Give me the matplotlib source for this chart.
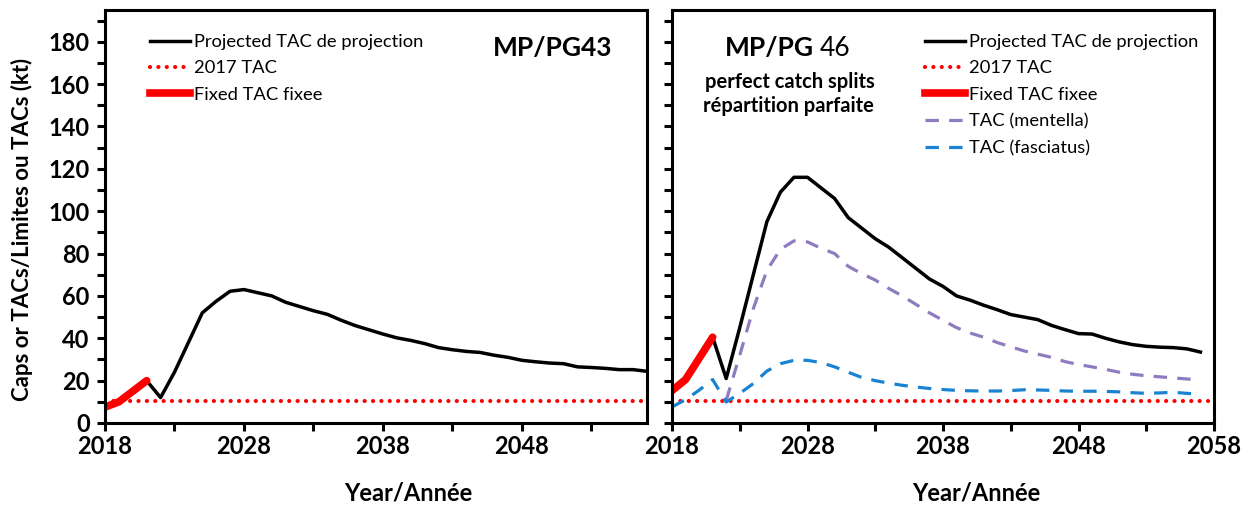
import matplotlib
matplotlib.use("Agg")
import matplotlib.pyplot as plt
from matplotlib.ticker import MultipleLocator
from matplotlib.lines import Line2D

plt.rcParams['font.family'] = ['Lato', 'DejaVu Sans']

# ---- data -------------------------------------------------------------
years_left = list(range(2018, 2058))
tac_pg43 = [7.5, 10, 15, 20, 12, 24, 38, 52, 57.5, 62.2,
            63, 61.5, 60, 57, 55, 53, 51.3, 48.5, 46, 44,
            42, 40.2, 39, 37.5, 35.6, 34.6, 33.8, 33.3, 32, 31,
            29.6, 28.9, 28.3, 28, 26.5, 26.2, 25.8, 25.2, 25.2, 24.4]
fixed_years = [2018, 2019, 2020, 2021]
fixed_pg43 = [7.5, 10, 15, 20]

years_right = list(range(2018, 2058))
tac_pg46 = [15.3, 20.5, 30.5, 40.5, 21, 45, 70, 95, 109, 116,
            116, 111, 106, 97, 92, 87, 83, 78, 73, 68,
            64.5, 60, 58, 55.6, 53.5, 51.2, 50, 48.8, 46.1, 44.1,
            42.2, 42, 40, 38.3, 37, 36.2, 35.8, 35.6, 35, 33.5]
fixed_pg46 = [15.3, 20.5, 30.5, 40.5]

years_mentella = list(range(2022, 2058))
tac_mentella = [10.7, 32, 54, 72, 82, 86, 85.5, 82.5, 80, 74,
                70.5, 67.5, 63.5, 60, 56, 52, 48.5, 45, 42.5, 40.5,
                38, 36, 34, 32.5, 31, 29, 27.6, 26.5, 25.3, 24,
                23, 22.3, 21.8, 21.3, 20.8, 20.2]
tac_fasciatus = [7.6, 11, 15.5, 20.5, 9.9, 14, 18.6, 24.5, 28, 29.6,
                 29.6, 28.5, 26.5, 24, 21.5, 20, 18.8, 17.8, 17, 16.3,
                 15.8, 15.4, 15.2, 15.1, 15.1, 15.3, 15.7, 15.6, 15.4, 15.1,
                 15, 15, 14.9, 14.7, 14.3, 14, 14.2, 14.5, 14, 13.6]
tac_2017 = 10.5

# ---- styles -----------------------------------------------------------
BLACK = '#000000'
RED = '#ff0000'
PURPLE = '#8f7bbf'
BLUE = '#1a82d2'
dotted = dict(color=RED, lw=3.0, linestyle=(0, (0.01, 2.0)),
              dash_capstyle='round')
dashed = (0, (4.2, 3.2))
W, H = 1250, 508

fig = plt.figure(figsize=(W / 100, H / 100), dpi=100)


def px_axes(x0, x1, ytop, ybot):
    return fig.add_axes([x0 / W, 1 - ybot / H, (x1 - x0) / W, (ybot - ytop) / H])


def style_axes(ax, xmax, show_ylabels):
    ax.set_xlim(2018, xmax)
    ax.set_ylim(0, 195)
    ax.xaxis.set_major_locator(MultipleLocator(10, offset=8))
    ax.xaxis.set_minor_locator(MultipleLocator(5, offset=3))
    ax.yaxis.set_major_locator(MultipleLocator(20))
    ax.yaxis.set_minor_locator(MultipleLocator(10))
    for s in ax.spines.values():
        s.set_linewidth(2.2)
    ax.tick_params(which='both', direction='out', length=6, width=2.2)
    ax.tick_params(axis='x', which='major', pad=3)
    ax.tick_params(axis='y', which='major', pad=5)
    for lab in ax.get_xticklabels() + ax.get_yticklabels():
        lab.set_fontweight('bold')
        lab.set_fontsize(17)
    if not show_ylabels:
        ax.set_yticklabels([])


legend_kw = dict(loc='upper left', frameon=False, fontsize=13.2, handlelength=2.2,
                 handletextpad=0.2, labelspacing=0.57, borderpad=0, borderaxespad=0)

# ---- left panel -------------------------------------------------------
axL = px_axes(105, 647, 10, 423)
axL.axhline(tac_2017, **dotted)
axL.plot(years_left, tac_pg43, color=BLACK, lw=2.5)
axL.plot(fixed_years, fixed_pg43, color=RED, lw=5.5, solid_capstyle='round')
style_axes(axL, 2057, True)

handles_L = [Line2D([], [], color=BLACK, lw=2.5),
             Line2D([], [], **dotted),
             Line2D([], [], color=RED, lw=5.5)]
axL.legend(handles_L, ['Projected TAC de projection', '2017 TAC', 'Fixed TAC fixee'],
           bbox_to_anchor=((150 - 105) / 542, (423 - 34) / 413), **legend_kw)
axL.text((553 - 105) / 542, (423 - 48) / 413, 'MP/PG43', transform=axL.transAxes,
         ha='center', va='center', fontsize=19, fontweight='bold')

# ---- right panel ------------------------------------------------------
axR = px_axes(672, 1214, 10, 423)
axR.axhline(tac_2017, **dotted)
axR.plot(years_right, tac_pg46, color=BLACK, lw=2.5)
axR.plot(fixed_years, fixed_pg46, color=RED, lw=5.5, solid_capstyle='round')
axR.plot(years_mentella, tac_mentella, color=PURPLE, lw=2.3, linestyle=dashed)
axR.plot(years_right, tac_fasciatus, color=BLUE, lw=2.3, linestyle=dashed)
style_axes(axR, 2058, False)

handles_R = [Line2D([], [], color=BLACK, lw=2.5),
             Line2D([], [], **dotted),
             Line2D([], [], color=RED, lw=5.5),
             Line2D([], [], color=PURPLE, lw=2.3, linestyle=dashed),
             Line2D([], [], color=BLUE, lw=2.3, linestyle=dashed)]
axR.legend(handles_R, ['Projected TAC de projection', '2017 TAC', 'Fixed TAC fixee',
                       'TAC (mentella)', 'TAC (fasciatus)'],
           bbox_to_anchor=((925 - 672) / 542, (423 - 34) / 413), **legend_kw)

axR.text((814 - 672) / 542, (423 - 48) / 413, 'MP/PG', transform=axR.transAxes,
         ha='right', va='center', fontsize=19, fontweight='bold')
axR.text((820 - 672) / 542, (423 - 48) / 413, '46', transform=axR.transAxes,
         ha='left', va='center', fontsize=19)
axR.text((790 - 672) / 542, (423 - 82) / 413, 'perfect catch splits',
         transform=axR.transAxes, ha='center', va='center', fontsize=14.5, fontweight='bold')
axR.text((788 - 672) / 542, (423 - 106) / 413, 'répartition parfaite',
         transform=axR.transAxes, ha='center', va='center', fontsize=14.5, fontweight='bold')

# ---- axis titles ------------------------------------------------------
fig.text(22 / W, 1 - 229 / H, 'Caps or TACs/Limites ou TACs (kt)', rotation=90,
         ha='center', va='center', fontsize=16, fontweight='bold')
fig.text(408 / W, 1 - 493 / H, 'Year/Année', ha='center', va='center',
         fontsize=17, fontweight='bold')
fig.text(976 / W, 1 - 493 / H, 'Year/Année', ha='center', va='center',
         fontsize=17, fontweight='bold')

fig.savefig('out.png', dpi=100)
